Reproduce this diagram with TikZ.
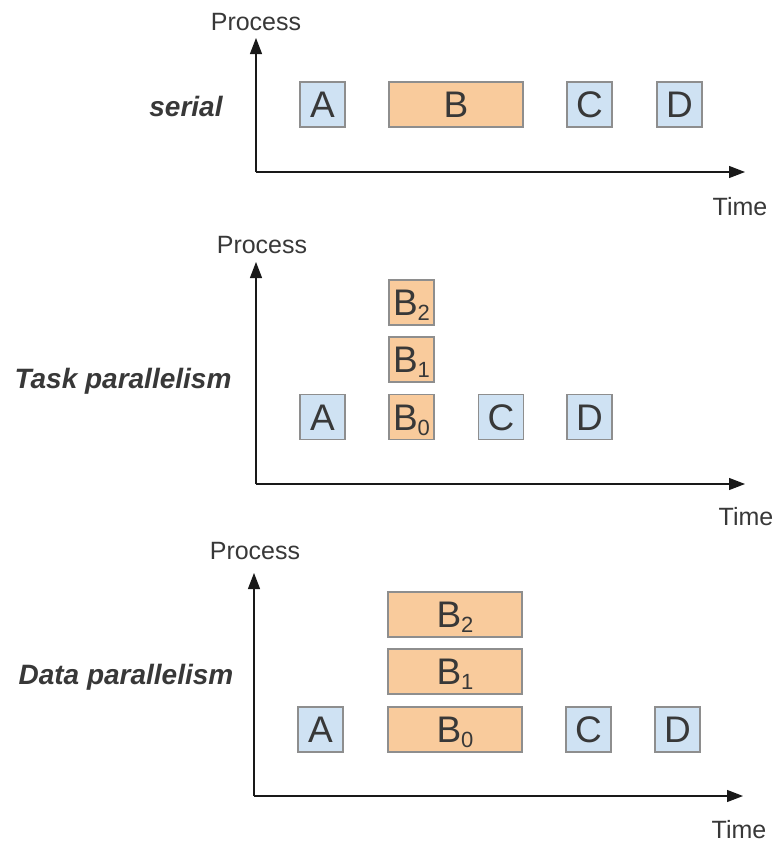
\documentclass[tikz,border=0pt]{standalone}
\usepackage{fontspec}
\setmainfont{Liberation Sans}
\usetikzlibrary{arrows.meta}
\definecolor{boxblue}{HTML}{CFE2F3}
\definecolor{boxorange}{HTML}{F9CB9C}
\definecolor{boxline}{HTML}{8E8E8E}
\definecolor{ink}{HTML}{383838}
\newcommand{\sub}[1]{\raisebox{-5pt}{\fontsize{22}{24}\selectfont #1}}
\tikzset{
  task/.style={draw=boxline, line width=1.2pt, inner sep=0pt, text=ink,
    font=\fontsize{37}{40}\selectfont, text height=26pt, text depth=0pt,
    minimum height=45pt},
  short/.style={task, fill=boxblue, minimum width=45pt},
  shortB/.style={task, fill=boxorange, minimum width=45pt},
  longB/.style={task, fill=boxorange, minimum width=134pt},
  axislabel/.style={text=ink, font=\fontsize{25}{28}\selectfont, inner sep=0pt},
  rowlabel/.style={text=ink, font=\fontsize{28}{32}\selectfont\bfseries\itshape, inner sep=0pt},
  axis/.style={line width=1.2pt, draw=black!90, -{Triangle[length=16pt,width=12pt]}},
}
\begin{document}
\begin{tikzpicture}[x=1pt, y=-1pt]
\useasboundingbox (0,0) rectangle (779,847);

% ---- serial ----
\coordinate (o1) at (256,172);
\coordinate (y1) at (256,38);
\coordinate (x1) at (745,172);
\draw[axis] (o1) -- (y1);
\draw[axis] (o1) -- (x1);
\node[axislabel] (p1) at (256,22) {Process};
\node[axislabel] (t1) at (740,207) {Time};
\node[rowlabel] (l1) at (186,106) {serial};
\node[short] (a1) at (322.5,104.5) {A};
\node[longB] (b1) at (456,104.5) {B};
\node[short] (c1) at (589.5,104.5) {C};
\node[short] (d1) at (679.5,104.5) {D};

% ---- task parallelism ----
\coordinate (o2) at (256,484);
\coordinate (y2) at (256,262);
\coordinate (x2) at (745,484);
\draw[axis] (o2) -- (y2);
\draw[axis] (o2) -- (x2);
\node[axislabel] (p2) at (262,245) {Process};
\node[axislabel] (t2) at (746,517) {Time};
\node[rowlabel] (l2) at (123,381) {Task parallelism};
\node[short] (a2) at (322.5,417) {A};
\node[shortB] (b20) at (411.5,417) {B\sub{0}};
\node[shortB] (b21) at (411.5,359.5) {B\sub{1}};
\node[shortB] (b22) at (411.5,302.5) {B\sub{2}};
\node[short] (c2) at (501,417) {C};
\node[short] (d2) at (589.5,417) {D};

% ---- data parallelism ----
\coordinate (o3) at (254,796);
\coordinate (y3) at (254,573);
\coordinate (x3) at (743,796);
\draw[axis] (o3) -- (y3);
\draw[axis] (o3) -- (x3);
\node[axislabel] (p3) at (255,551) {Process};
\node[axislabel] (t3) at (739,830) {Time};
\node[rowlabel] (l3) at (126,677) {Data parallelism};
\node[short] (a3) at (320.5,729.5) {A};
\node[longB] (b30) at (455,729.5) {B\sub{0}};
\node[longB] (b31) at (455,671.5) {B\sub{1}};
\node[longB] (b32) at (455,614.5) {B\sub{2}};
\node[short] (c3) at (588.5,729.5) {C};
\node[short] (d3) at (677.5,729.5) {D};
\end{tikzpicture}
\end{document}
